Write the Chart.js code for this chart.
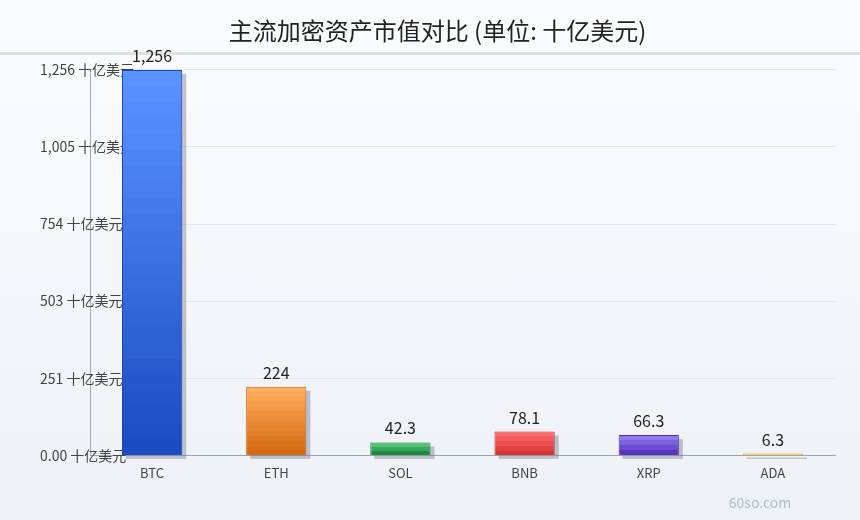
<!DOCTYPE html>
<html>
<head>
<meta charset="utf-8">
<script src="https://cdn.jsdelivr.net/npm/chart.js@4.4.1/dist/chart.umd.min.js"></script>
<style>
  html, body { margin: 0; padding: 0; }
  body { width: 860px; height: 520px; overflow: hidden; background: linear-gradient(#fbfcfe, #eef1f7); }
  #wrap { width: 860px; height: 520px; position: relative; }
</style>
</head>
<body>
<div id="wrap"><canvas id="market" width="860" height="520"></canvas></div>
<script>
const coins = ['BTC', 'ETH', 'SOL', 'BNB', 'XRP', 'ADA'];
const marketCap = [1256, 224, 42.3, 78.1, 66.3, 6.3];
const valueLabels = ['1,256', '224', '42.3', '78.1', '66.3', '6.3'];
const yTickLabels = ['0.00', '251', '503', '754', '1,005', '1,256'];
const yMax = 1256.4;
const unit = '十亿美元';

const topColors = ['#5a93ff', '#ffad5e', '#52c276', '#ff6a6a', '#8f78f0', '#fbd95a'];
const bottomColors = ['#1a4cc2', '#d4680f', '#1f8a3c', '#d63232', '#5636bc', '#f2c636'];
const borderColors = ['#1a46b0', '#c8640f', '#1d7d38', '#c02828', '#4a30a8', '#d6a800'];

const fontFamily = '"Noto Sans CJK SC", "Noto Sans", sans-serif';

function hexRgb(h) {
  return [1, 3, 5].map(i => parseInt(h.slice(i, i + 2), 16));
}
function mix(a, b, t) {
  const ca = hexRgb(a), cb = hexRgb(b);
  return 'rgb(' + ca.map((v, i) => Math.round(v + (cb[i] - v) * t)).join(',') + ')';
}

function barFill(c) {
  const chart = c.chart;
  if (!chart.chartArea || c.dataIndex === undefined) return topColors[0];
  const i = c.dataIndex;
  const y = chart.scales.y;
  const top = y.getPixelForValue(marketCap[i]);
  const bot = y.getPixelForValue(0);
  const g = chart.ctx.createLinearGradient(0, top, 0, bot);
  const n = Math.min(24, Math.max(3, Math.round((bot - top) / 5)));
  for (let k = 0; k < n; k++) {
    const col = mix(topColors[i], bottomColors[i], n > 1 ? k / (n - 1) : 0);
    g.addColorStop(k / n, col);
    g.addColorStop((k + 1) / n, col);
  }
  return g;
}

const decor = {
  id: 'decor',
  beforeDraw(chart) {
    const ctx = chart.ctx;
    ctx.save();
    ctx.fillStyle = '#dde0ea';
    ctx.fillRect(0, 52, chart.width, 3);
    ctx.restore();
  },
  beforeDatasetsDraw(chart) {
    const ctx = chart.ctx;
    const ys = chart.scales.y;
    ctx.save();
    // y tick labels, drawn here so they can run past the axis line
    ctx.font = '14px ' + fontFamily;
    ctx.fillStyle = '#444';
    ctx.textAlign = 'left';
    ctx.textBaseline = 'middle';
    ys.ticks.forEach((t, i) => {
      ctx.fillText(yTickLabels[i] + ' ' + unit, ys.left, ys.getPixelForValue(t.value));
    });
    ctx.fillStyle = 'rgba(120,128,150,0.45)';
    chart.getDatasetMeta(0).data.forEach(b => {
      ctx.fillRect(b.x - b.width / 2 + 4, b.y + 4, b.width, b.base - b.y);
    });
    ctx.restore();
  },
  afterDatasetsDraw(chart) {
    const ctx = chart.ctx;
    ctx.save();
    ctx.font = '16px ' + fontFamily;
    ctx.fillStyle = '#222';
    ctx.textAlign = 'center';
    ctx.textBaseline = 'bottom';
    chart.getDatasetMeta(0).data.forEach((b, i) => {
      ctx.fillText(valueLabels[i], b.x, b.y - 6);
    });
    ctx.font = '14px ' + fontFamily;
    ctx.fillStyle = '#b6bac6';
    ctx.textBaseline = 'middle';
    ctx.fillText('60so.com', 760, 503);
    ctx.restore();
  }
};

new Chart(document.getElementById('market'), {
  type: 'bar',
  data: {
    labels: coins,
    datasets: [{
      data: marketCap,
      backgroundColor: barFill,
      borderColor: borderColors,
      borderWidth: 1,
      barPercentage: 0.97,
      categoryPercentage: 0.5
    }]
  },
  options: {
    responsive: false,
    animation: false,
    layout: { padding: { left: 40, right: 25, top: 0, bottom: 29 } },
    plugins: {
      legend: { display: false },
      tooltip: { enabled: false },
      title: {
        display: true,
        text: '主流加密资产市值对比 (单位: 十亿美元)',
        color: '#222',
        font: { size: 24, family: fontFamily, weight: 'normal' },
        padding: { top: 16, bottom: 25 }
      }
    },
    scales: {
      x: {
        grid: { display: false, drawTicks: false },
        border: { color: '#9ca2ae' },
        ticks: { color: '#444', font: { size: 13, family: fontFamily }, padding: 10, maxRotation: 0 }
      },
      y: {
        min: 0,
        max: yMax,
        afterFit(s) { s.width = 50; },
        afterBuildTicks(s) {
          s.ticks = yTickLabels.map((t, i) => ({ value: yMax * i / 5 }));
        },
        grid: { color: '#e1e5ee', drawTicks: false },
        border: { color: '#a4a8b4' },
        ticks: {
          color: 'rgba(0,0,0,0)',
          font: { size: 13, family: fontFamily },
          callback: (v, i) => yTickLabels[i] + ' ' + unit
        }
      }
    }
  },
  plugins: [decor]
});
</script>
</body>
</html>
